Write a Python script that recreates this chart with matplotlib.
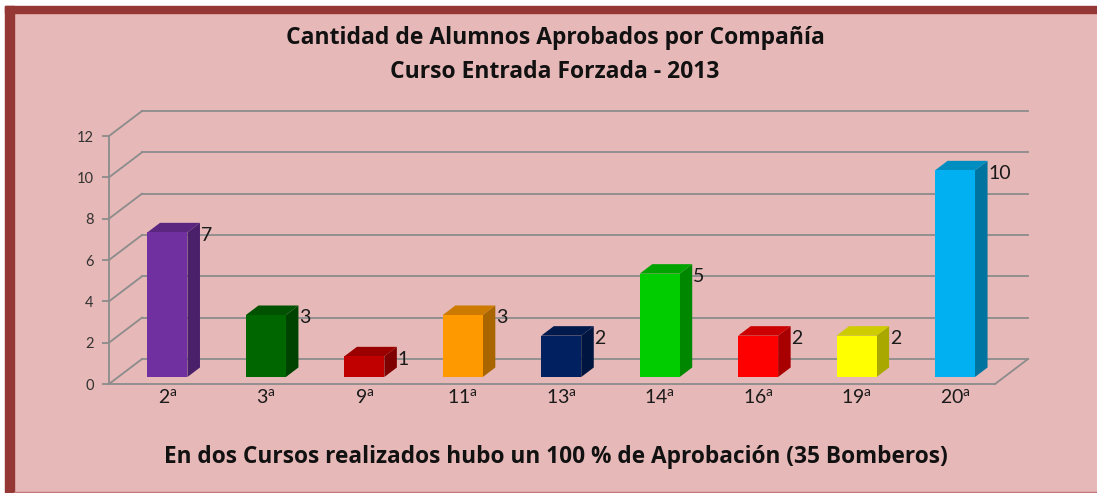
import matplotlib
matplotlib.use("Agg")
import matplotlib.pyplot as plt
import matplotlib.colors as mcolors
from matplotlib.patches import Polygon, Rectangle

# datos
companias = ["2", "3", "9", "11", "13", "14", "16", "19", "20"]
aprobados = [7, 3, 1, 3, 2, 5, 2, 2, 10]
colores = ["#7030A0", "#006600", "#C00000", "#FF9900", "#002060",
           "#00CC00", "#FF0000", "#FFFF00", "#00B0F0"]
yticks = [0, 2, 4, 6, 8, 10, 12]

titulo = "Cantidad de Alumnos Aprobados por Compañía\nCurso Entrada Forzada - 2013"
nota = "En dos Cursos realizados hubo un 100 % de Aprobación (35 Bomberos)"

# perspectiva falsa
DX = 0.335   # desplazamiento en x por profundidad completa
DY = 1.21    # desplazamiento en y por profundidad completa
F = 0.28     # profundidad de la cara frontal de la barra
D = 0.38     # profundidad de la barra
HW = 0.203   # media anchura de la barra
YMAX = 12
n = len(companias)


def P(x, y, z):
    return (x + z * DX, y + z * DY)


def shade(c, k):
    r, g, b = mcolors.to_rgb(c)
    return (r * k, g * k, b * k)


plt.rcParams['font.family'] = ['Lato', 'DejaVu Sans']
plt.rcParams['mathtext.fontset'] = 'custom'
plt.rcParams['mathtext.rm'] = 'Lato'

W, H = 1097, 493
fig = plt.figure(figsize=(W / 100, H / 100), dpi=100, facecolor="#E6B8B7")

# marco
fig.patches.append(Rectangle((0, 1 - 6 / H), 1, 6 / H, transform=fig.transFigure,
                             color="white", zorder=0))
fig.patches.append(Rectangle((0, 0), 5 / W, 1, transform=fig.transFigure,
                             color="white", zorder=0))
fig.patches.append(Rectangle((5 / W, 1 - 13 / H), 1, 7 / H, transform=fig.transFigure,
                             color="#953735", zorder=0))
fig.patches.append(Rectangle((5 / W, 0), 9 / W, 1 - 6 / H, transform=fig.transFigure,
                             color="#953735", zorder=0))
fig.patches.append(Rectangle((14 / W, 0), 1, 1.5 / H, transform=fig.transFigure,
                             color="#C47472", zorder=0))

ax = fig.add_axes([109 / W, (H - 384) / H, (1028 - 109) / W, (384 - 111) / H])
ax.set_facecolor("none")
ax.set_xlim(-0.5, n - 0.5 + DX)
ax.set_ylim(0, YMAX + DY)

grid_c = "#8C8C8C"
# pared del fondo y lateral
for v in yticks:
    x0, y0 = P(-0.5, v, 1)
    x1, y1 = P(n - 0.5, v, 1)
    ax.plot([x0, x1], [y0, y1], color=grid_c, lw=1.3, zorder=1, clip_on=False)
    xa, ya = P(-0.5, v, 0)
    ax.plot([xa, x0], [ya, y0], color=grid_c, lw=1.3, zorder=1, clip_on=False)
# suelo, borde derecho
xa, ya = P(n - 0.5, 0, 0)
xb, yb = P(n - 0.5, 0, 1)
ax.plot([xa, xb], [ya, yb], color=grid_c, lw=1.3, zorder=1, clip_on=False)

for s in ["top", "right"]:
    ax.spines[s].set_visible(False)
ax.spines["left"].set_bounds(0, YMAX)
ax.spines["bottom"].set_bounds(-0.5, n - 0.5)
for s in ["left", "bottom"]:
    ax.spines[s].set_color(grid_c)
    ax.spines[s].set_linewidth(1.3)

ax.set_yticks(yticks)
ax.tick_params(axis="y", length=5, width=1.3, color=grid_c, labelsize=10.5,
               labelcolor="#333333", pad=6)

xs = [i + F * DX for i in range(n)]
ax.set_xticks(xs, [f"{c}$^{{\\mathrm{{a}}}}$" for c in companias])
ax.tick_params(axis="x", length=0, labelsize=14, labelcolor="#1a1a1a", pad=3)

# barras
for i, (v, c) in enumerate(zip(aprobados, colores)):
    xl, xr = i - HW, i + HW
    front = [P(xl, 0, F), P(xr, 0, F), P(xr, v, F), P(xl, v, F)]
    side = [P(xr, 0, F), P(xr, 0, F + D), P(xr, v, F + D), P(xr, v, F)]
    top = [P(xl, v, F), P(xr, v, F), P(xr, v, F + D), P(xl, v, F + D)]
    ax.add_patch(Polygon(side, closed=True, fc=shade(c, 0.66), ec="none", zorder=3))
    ax.add_patch(Polygon(top, closed=True, fc=shade(c, 0.8), ec="none", zorder=3))
    ax.add_patch(Polygon(front, closed=True, fc=c, ec="none", zorder=4))
    lx, _ = P(xr, v, F + D)
    _, ly = P(xr, v, F)
    ax.annotate(str(v), (lx, ly), xytext=(0.5, -2), textcoords="offset points",
                ha="left", va="center", fontsize=14, color="#1a1a1a",
                annotation_clip=False, zorder=5)

fig.text(555 / W, 1 - 55 / H, titulo, ha="center", va="center", fontsize=16.5,
         fontweight="bold", color="#111111", linespacing=1.5,
         family=["Open Sans", "DejaVu Sans"])
fig.text(556 / W, 1 - 457 / H, nota, ha="center", va="center", fontsize=16.3,
         fontweight="bold", color="#111111", family=["Open Sans", "DejaVu Sans"])

fig.savefig("out.png", dpi=100, facecolor=fig.get_facecolor())
